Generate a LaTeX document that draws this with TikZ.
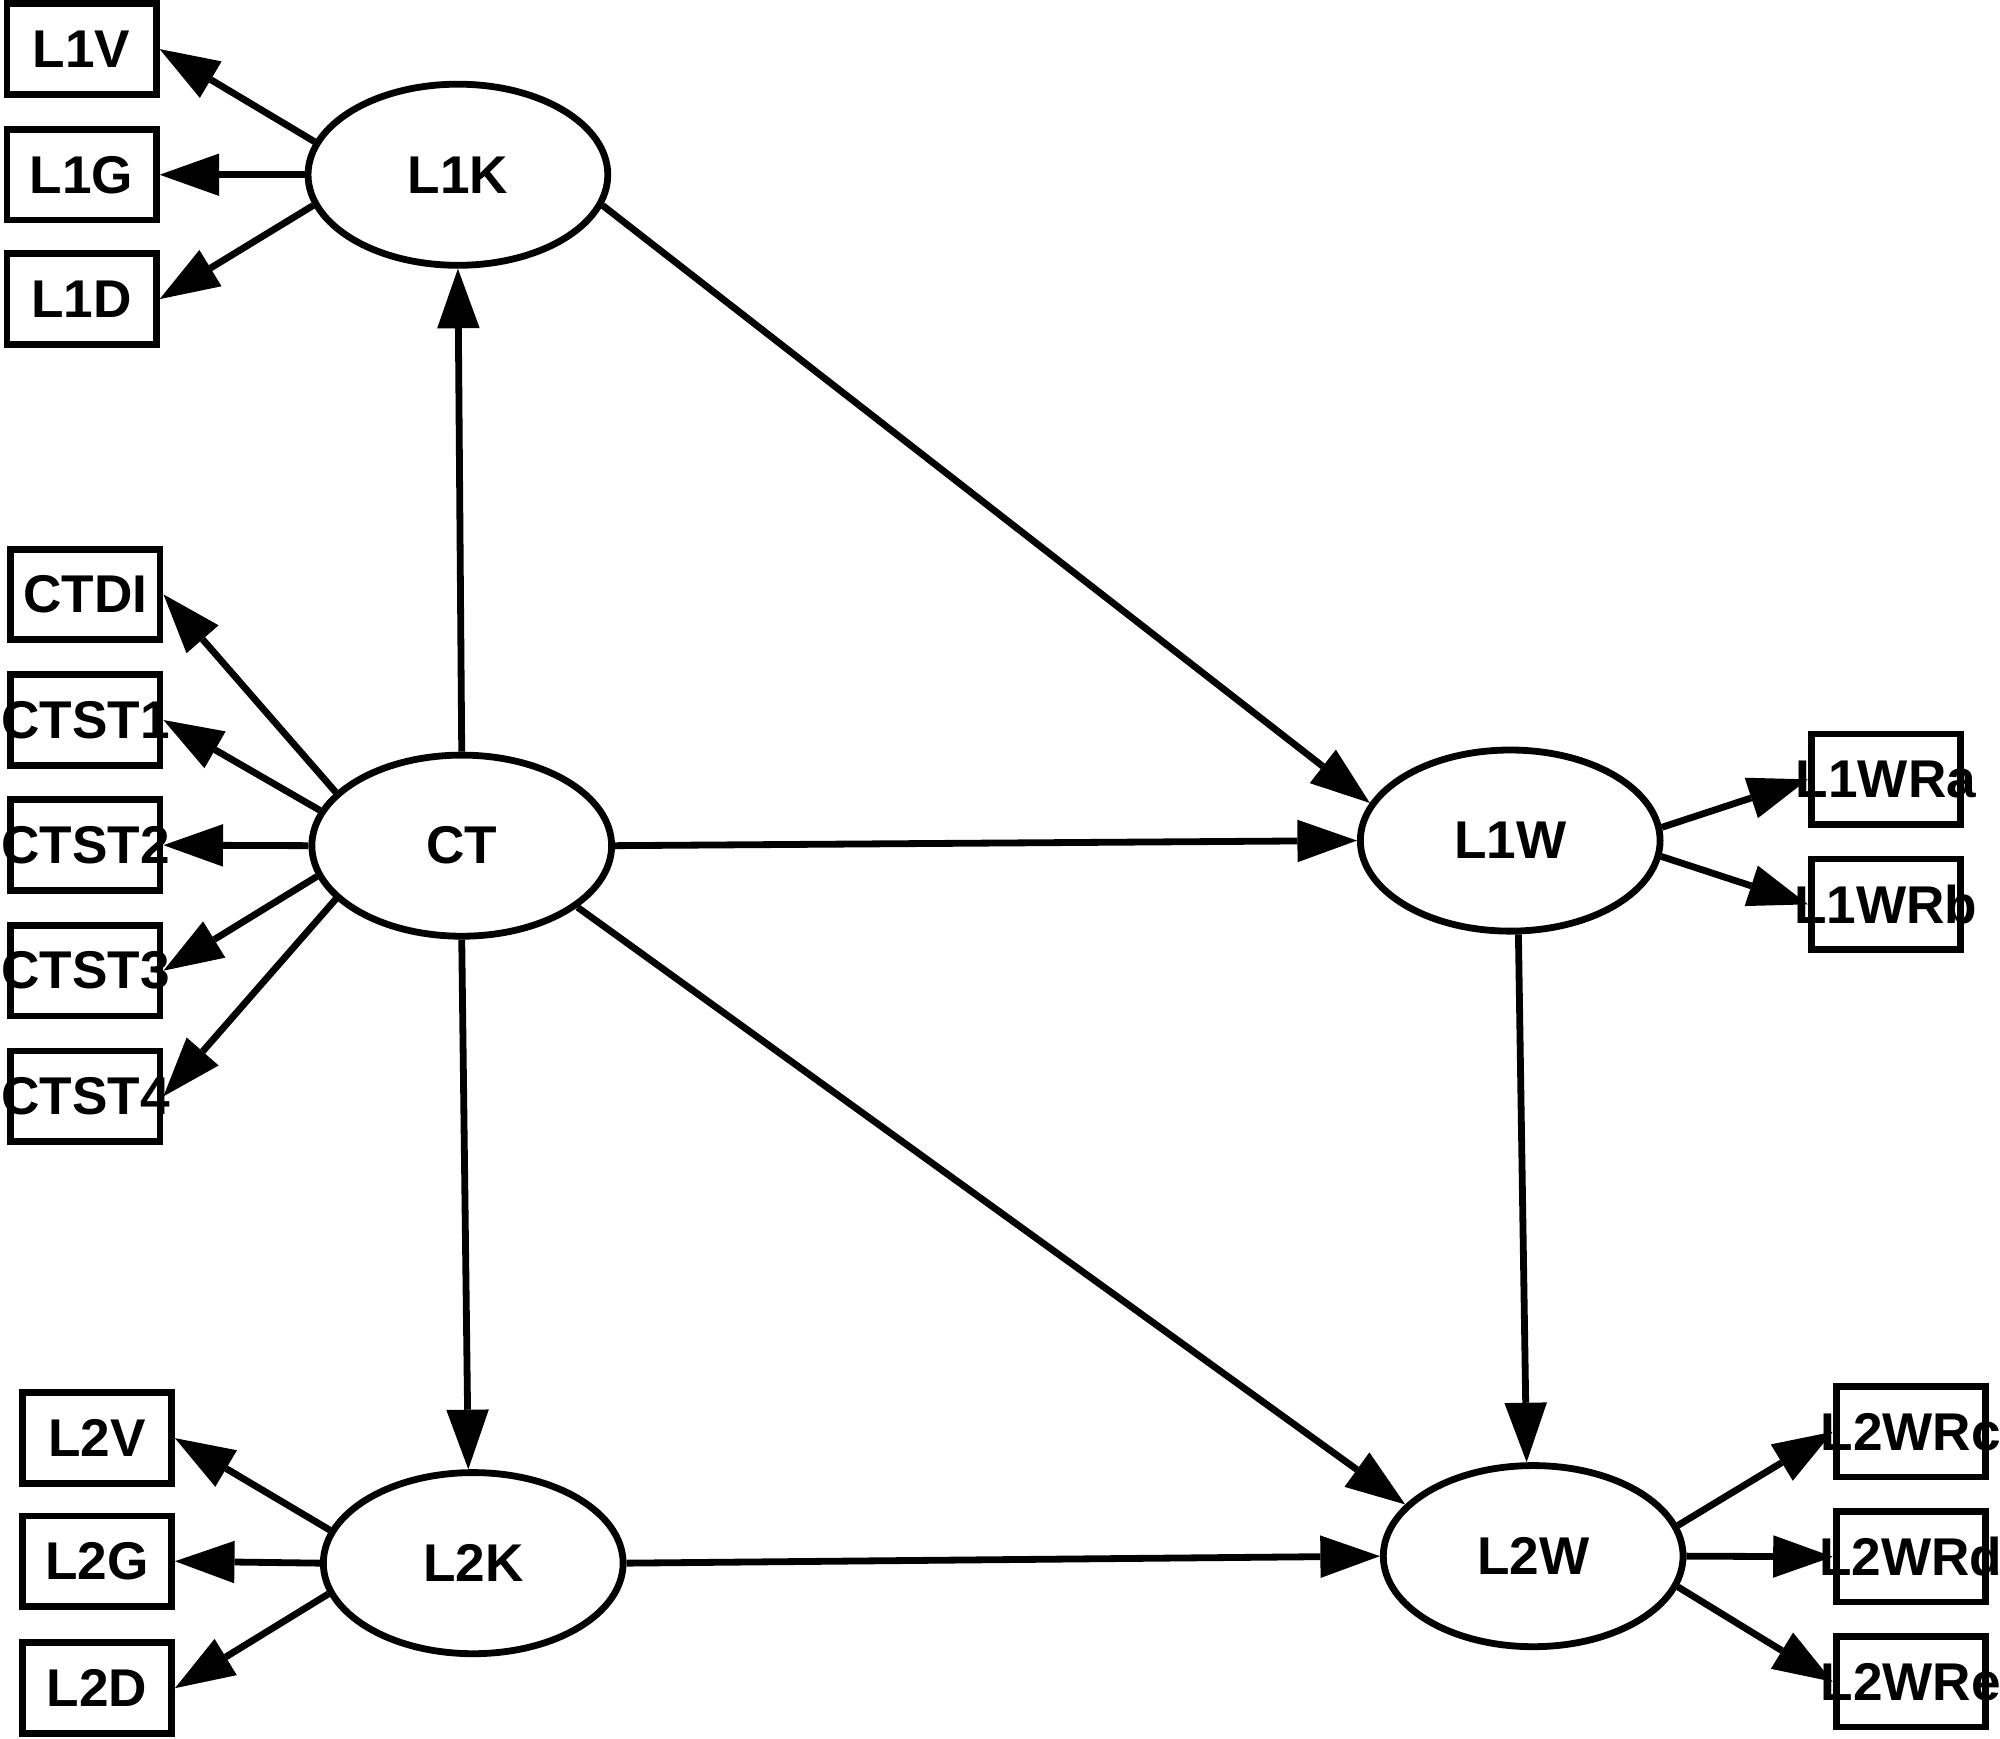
\documentclass[tikz,border=0pt]{standalone}
\usepackage{fontspec}
\setmainfont{Liberation Sans}
\usetikzlibrary{shapes.geometric,arrows.meta}
\begin{document}
\begin{tikzpicture}[x=0.6pt,y=-0.6pt,
  lbl/.style={font=\fontsize{25}{29}\selectfont\bfseries},
  obs/.style={lbl, draw, line width=3.2pt, rectangle, minimum width=70.2pt, minimum height=42.6pt, inner sep=0pt},
  lat/.style={lbl, draw, line width=3.2pt, ellipse, minimum width=141pt, minimum height=85.2pt, inner sep=0pt},
  arr/.style={line width=3.2pt, -{Triangle[length=28pt,width=20pt,line width=0pt]}}
]
\fill[white] (0,0) rectangle (1568,1363);
\useasboundingbox (0,0) rectangle (1568,1363);

% latent nodes
\node[lat] (L1K) at (359,137) {\makebox[0pt]{L1K}};
\node[lat] (CT) at (362,663) {\makebox[0pt]{CT}};
\node[lat] (L1W) at (1184,659) {\makebox[0pt]{L1W}};
\node[lat] (L2K) at (371,1225.5) {\makebox[0pt]{L2K}};
\node[lat] (L2W) at (1202,1220) {\makebox[0pt]{L2W}};

% observed nodes
\node[obs] (L1V) at (64,38.5) {\makebox[0pt]{L1V}};
\node[obs] (L1G) at (64,137) {\makebox[0pt]{L1G}};
\node[obs] (L1D) at (64,234.5) {\makebox[0pt]{L1D}};

\node[obs] (CTDI) at (67,466) {\makebox[0pt]{CTDI}};
\node[obs] (CTST1) at (67,564.5) {\makebox[0pt]{CTST1}};
\node[obs] (CTST2) at (67,662.6) {\makebox[0pt]{CTST2}};
\node[obs] (CTST3) at (67,761) {\makebox[0pt]{CTST3}};
\node[obs] (CTST4) at (67,859.5) {\makebox[0pt]{CTST4}};

\node[obs] (L1WRa) at (1478.5,611) {\makebox[0pt]{L1WRa}};
\node[obs] (L1WRb) at (1478.5,709) {\makebox[0pt]{L1WRb}};

\node[obs] (L2V) at (76,1127.5) {\makebox[0pt]{L2V}};
\node[obs] (L2G) at (76,1224) {\makebox[0pt]{L2G}};
\node[obs] (L2D) at (76,1323.5) {\makebox[0pt]{L2D}};

\node[obs] (L2WRc) at (1498,1122.5) {\makebox[0pt]{L2WRc}};
\node[obs] (L2WRd) at (1498,1220.5) {\makebox[0pt]{L2WRd}};
\node[obs] (L2WRe) at (1498,1318.5) {\makebox[0pt]{L2WRe}};

% connectors
\draw[arr] (L1K.167.2) -- (L1V.east);
\draw[arr] (L1K.180) -- (L1G.east);
\draw[arr] (L1K.192.3) -- (L1D.east);
\draw[arr] (CT.90) -- (L1K.270);
\draw[arr] (L1K.-12.4) -- (L1W.165.1);
\draw[arr] (CT.157.1) -- (CTDI.east);
\draw[arr] (CT.166.2) -- (CTST1.east);
\draw[arr] (CT.180) -- (CTST2.east);
\draw[arr] (CT.192.8) -- (CTST3.east);
\draw[arr] (CT.203.4) -- (CTST4.east);
\draw[arr] (CT.0) -- (L1W.180);
\draw[arr] (CT.270) -- (L2K.93);
\draw[arr] (CT.-28.9) -- (L2W.158.1);
\draw[arr] (L1W.5.9) -- (L1WRa.west);
\draw[arr] (L1W.-6.3) -- (L1WRb.west);
\draw[arr] (L1W.-85.9) -- (L2W.94);
\draw[arr] (L2K.167.8) -- (L2V.east);
\draw[arr] (L2K.180) -- (L2G.east);
\draw[arr] (L2K.192.2) -- (L2D.east);
\draw[arr] (L2K.0) -- (L2W.180);
\draw[arr] (L2W.12.1) -- (L2WRc.west);
\draw[arr] (L2W.0) -- (L2WRd.west);
\draw[arr] (L2W.-12.1) -- (L2WRe.west);
\end{tikzpicture}
\end{document}
